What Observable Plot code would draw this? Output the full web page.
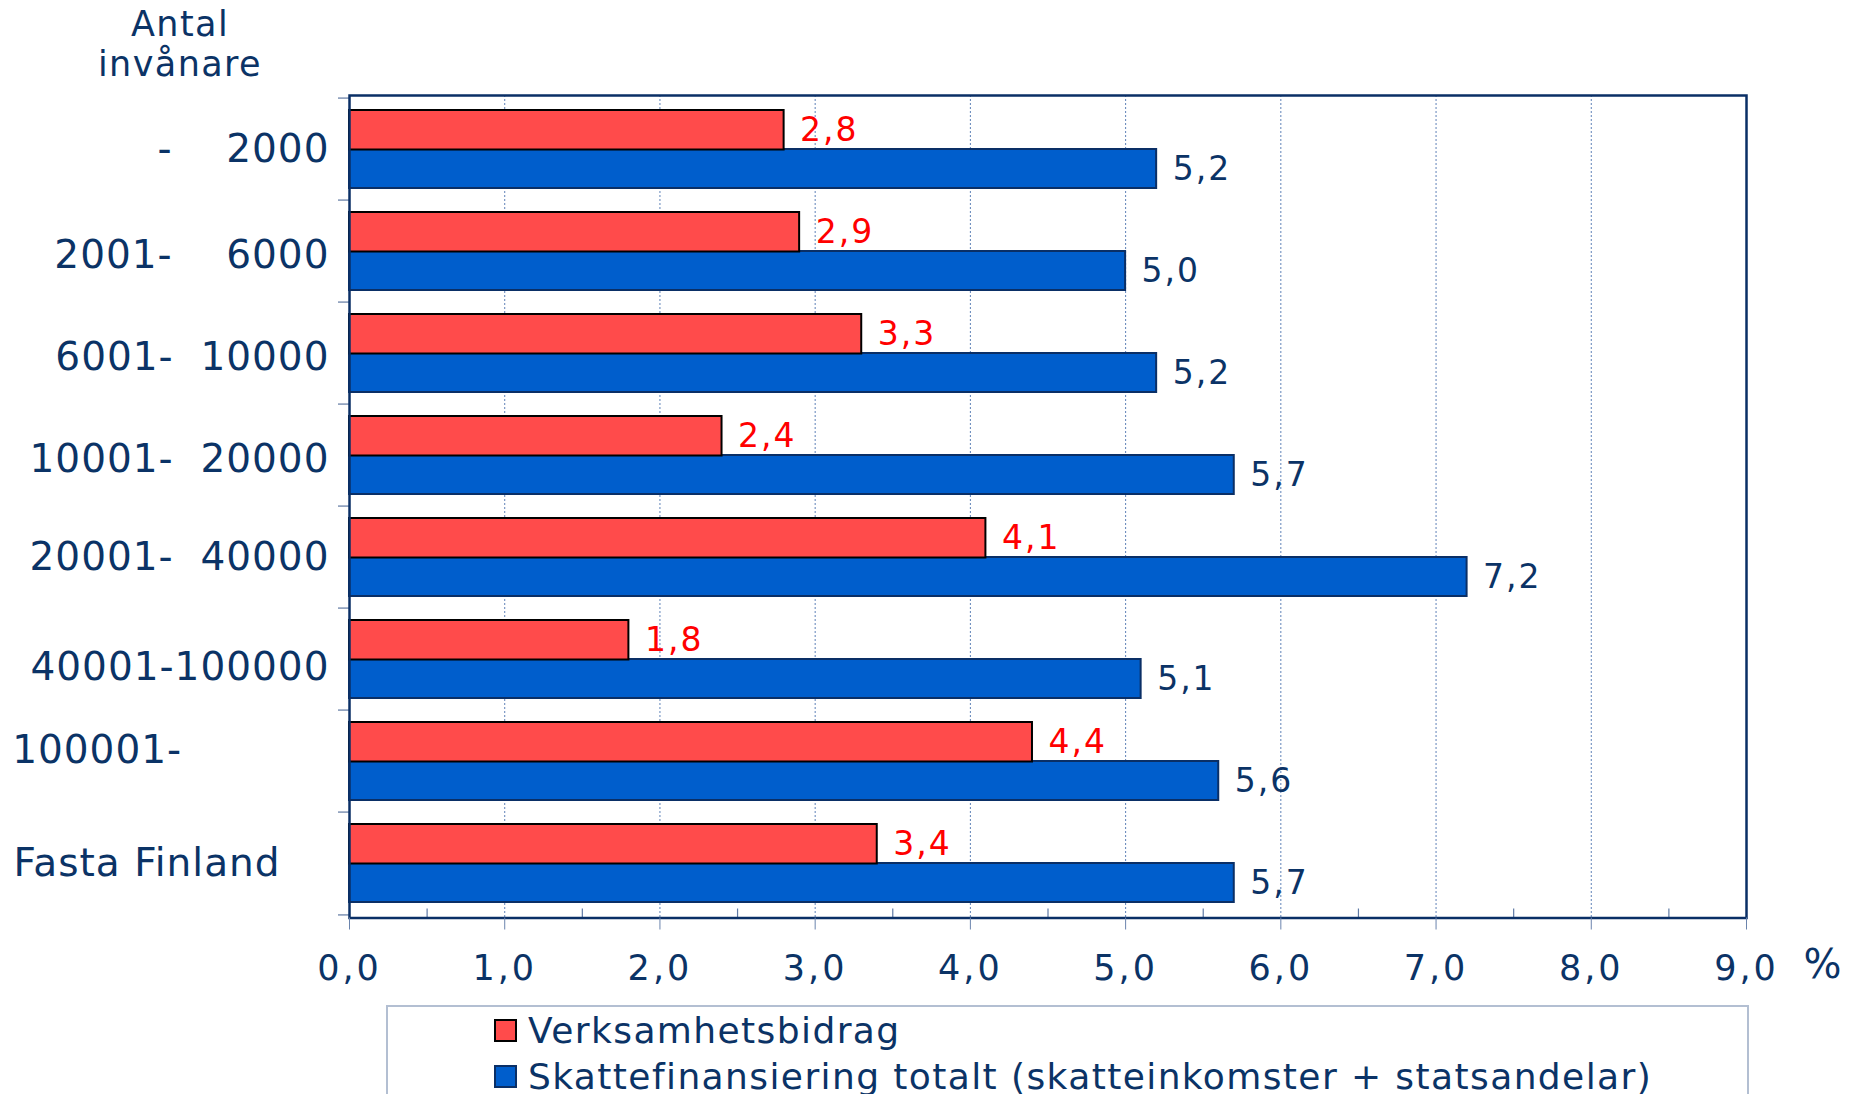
<!DOCTYPE html>
<html>
<head>
<meta charset="utf-8">
<script src="https://cdn.jsdelivr.net/npm/d3@7"></script>
<script src="https://cdn.jsdelivr.net/npm/@observablehq/plot@0.6"></script>
<style>
  html, body { margin: 0; padding: 0; background: #fff; }
  body { width: 1857px; height: 1094px; overflow: hidden; font-family: "DejaVu Sans", sans-serif; color: #0b3366; }
  #title { width: 360px; height: 81px; padding-top: 4px; text-align: center; font-size: 35px; line-height: 40px; letter-spacing: 1.4px; }
  #chart svg text { white-space: pre; }
  #chart svg g[aria-label="y-axis tick label"] text { letter-spacing: 1px; }
  #chart svg g[aria-label="x-axis tick label"] text { letter-spacing: 3px; }
  #chart svg g[aria-label="text"] text { letter-spacing: 2px; }
  #legend { box-sizing: border-box; margin-left: 386px; margin-top: 5px; width: 1363px; height: 110px;
            border: 2px solid #b3bfd2; border-bottom: none; padding-left: 106px; font-size: 36px; letter-spacing: 1.4px; }
  .item { display: flex; align-items: center; height: 46px; }
  .sw { box-sizing: border-box; width: 23px; height: 23px; border: 2px solid; margin-right: 11px; flex: none; }
</style>
</head>
<body>
<div id="title">Antal<br>invånare</div>
<div id="chart"></div>
<div id="legend"></div>
<script>
// ---- data ----
const categories = ["- 2000", "2001- 6000", "6001- 10000", "10001- 20000", "20001- 40000", "40001-100000", "100001-", "Fasta Finland"];
const categoryLabels = ["-    2000", "2001-    6000", "6001-  10000", "10001-  20000", "20001-  40000", "40001-100000", "100001-           ", "Fasta Finland   \u2009"];
const seriesNames = ["Verksamhetsbidrag", "Skattefinansiering totalt (skatteinkomster + statsandelar)"];
const verksamhetsbidrag = [2.8, 2.9, 3.3, 2.4, 4.1, 1.8, 4.4, 3.4];
const skattefinansiering = [5.2, 5.0, 5.2, 5.7, 7.2, 5.1, 5.6, 5.7];
const xTicks = [0, 1, 2, 3, 4, 5, 6, 7, 8, 9];
const xMinorTicks = [0.5, 1.5, 2.5, 3.5, 4.5, 5.5, 6.5, 7.5, 8.5];
const xGrid = [1, 2, 3, 4, 5, 6, 7, 8];

// ---- styles ----
const navy = "#0b3366";
const redFill = "#ff4b4b", blueFill = "#005ecc";
const fmt = d => d.toFixed(1).replace(".", ",");

const W = 1857, H = 915, mTop = 10, mBottom = 82.5, mLeft = 349, mRight = 111;
const innerH = H - mTop - mBottom;
const bw = innerH / categories.length;

const redData = categories.map((c, i) => ({cat: c, v: verksamhetsbidrag[i]}));
const blueData = categories.map((c, i) => ({cat: c, v: skattefinansiering[i]}));
const labelOf = new Map(categories.map((c, i) => [c, categoryLabels[i]]));

// y-axis tick labels, drawn in a few groups with small vertical nudges as in the original
const yAxis = (ticks, dy) => Plot.axisY({ticks, dy, tickSize: 0, tickPadding: 20, fontSize: 39, fill: navy,
  tickFormat: d => labelOf.get(d), label: null});

const plot = Plot.plot({
  width: W, height: H,
  marginTop: mTop, marginBottom: mBottom, marginLeft: mLeft, marginRight: mRight,
  style: {fontFamily: "DejaVu Sans", color: navy, background: "#fff", overflow: "visible"},
  x: {domain: [0, 9], axis: null},
  y: {domain: categories, padding: 0, axis: null},
  marks: [
    Plot.gridX(xGrid, {stroke: "#5f82b8", strokeOpacity: 1, strokeWidth: 1, strokeDasharray: "2,2"}),
    Plot.ruleX(xMinorTicks, {x: d => d, insetTop: innerH - 9, stroke: "#5f7aa6", strokeWidth: 1.2}),
    Plot.barX(blueData, {x: "v", y: "cat", fill: blueFill, stroke: "#0a2f66", strokeWidth: 2, insetTop: 51, insetBottom: 12}),
    Plot.barX(redData, {x: "v", y: "cat", fill: redFill, stroke: "#000", strokeWidth: 2, insetTop: 12, insetBottom: 50.5}),
    Plot.text(redData, {x: "v", y: "cat", text: d => fmt(d.v), dx: 16, dy: -19.3, textAnchor: "start", fill: "#ff0000", fontSize: 33}),
    Plot.text(blueData, {x: "v", y: "cat", text: d => fmt(d.v), dx: 16, dy: 19.5, textAnchor: "start", fill: navy, fontSize: 33}),
    Plot.ruleY(categories, {y: d => d, dy: -bw / 2, x1: 0, x2: 0, insetLeft: -11, stroke: "#7f93b5", strokeWidth: 1.5}),
    Plot.ruleY(categories.slice(-1), {y: d => d, dy: bw / 2, x1: 0, x2: 0, insetLeft: -11, stroke: "#7f93b5", strokeWidth: 1.5}),
    Plot.frame({stroke: "#0a2f66", strokeWidth: 2.5}),
    Plot.axisX({ticks: xTicks, tickFormat: fmt, tickSize: 12, tickPadding: 25, fontSize: 35, stroke: "#6b84ad", fill: navy, label: null}),
    yAxis([categories[0], categories[4], categories[7]], 0),
    yAxis([categories[1], categories[2], categories[3]], 4),
    yAxis([categories[5]], 8),
    yAxis([categories[6]], -11),
    Plot.text(["%"], {frameAnchor: "bottom-right", dx: 77, dy: 47, lineAnchor: "middle", fontSize: 40, fill: navy, textAnchor: "middle"})
  ]
});
document.getElementById("chart").appendChild(plot);

// ---- legend ----
const legend = document.getElementById("legend");
const swatches = [[redFill, "#000"], [blueFill, "#0a2f66"]];
seriesNames.forEach((name, i) => {
  const item = document.createElement("div");
  item.className = "item";
  const sw = document.createElement("div");
  sw.className = "sw";
  sw.style.background = swatches[i][0];
  sw.style.borderColor = swatches[i][1];
  const t = document.createElement("span");
  t.textContent = name;
  item.appendChild(sw); item.appendChild(t);
  legend.appendChild(item);
});
</script>
</body>
</html>
